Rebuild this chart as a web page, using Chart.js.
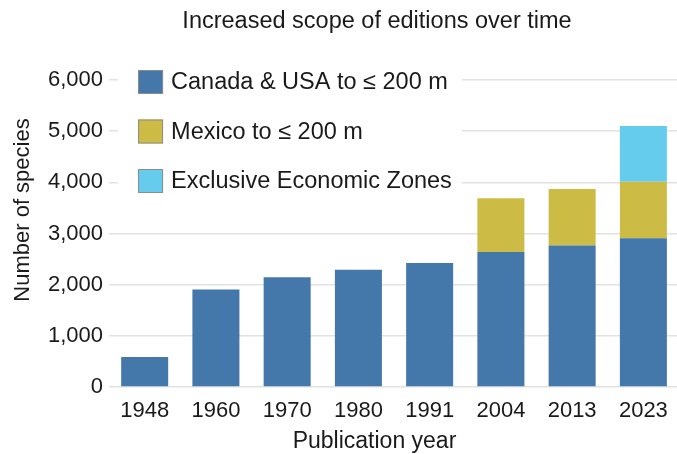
<!DOCTYPE html>
<html>
<head>
<meta charset="utf-8">
<script src="https://cdn.jsdelivr.net/npm/chart.js@4.4.0/dist/chart.umd.min.js"></script>
<style>
    html, body { margin: 0; padding: 0; background: #fff; overflow: hidden; }
    #wrap { width: 681px; height: 454px; }
</style>
</head>
<body>
<div id="wrap"><canvas id="chart"></canvas></div>
<script>
// Chart values
var years = ['1948', '1960', '1970', '1980', '1991', '2004', '2013', '2023'];
var canadaUsa = [585, 1905, 2145, 2290, 2425, 2640, 2765, 2905];
var mexico = [null, null, null, null, null, 1050, 1105, 1105];
var eez = [null, null, null, null, null, null, null, 1090];
var yTicks = [0, 1000, 2000, 3000, 4000, 5000, 6000];
var chartTitle = 'Increased scope of editions over time';
var xTitle = 'Publication year';
var yTitle = 'Number of species';

var FONT = "'Liberation Sans', Arial, sans-serif";
var INK = '#1a1a1a';

/**
 * Chart title and axis titles drawn by hand:
 * none of them is centred where Chart.js would put it
 */
var offsetTitles = {
    id: 'offsetTitles',
    afterDraw: function(chart) {
        var ctx = chart.ctx;
        ctx.save();
        ctx.fillStyle = INK;
        ctx.textAlign = 'center';
        ctx.textBaseline = 'middle';
        ctx.font = '23.5px ' + FONT;
        ctx.fillText(chartTitle, 377, 22);

        ctx.font = '23px ' + FONT;
        ctx.fillText(xTitle, 374.5, 442);

        ctx.font = '22px ' + FONT;
        ctx.translate(23, 210);
        ctx.rotate(-Math.PI / 2);
        ctx.fillText(yTitle, 0, 0);
        ctx.restore();
    }
};

/**
 * Legend drawn inside the plot area, on a white patch
 * so that the grid lines stop behind it
 */
var insideLegend = {
    id: 'insideLegend',
    afterDatasetsDraw: function(chart) {
        var ctx = chart.ctx;
        var area = chart.chartArea;
        var sets = chart.data.datasets;
        var rowGap = 49.5;

        ctx.save();
        ctx.font = '23.5px ' + FONT;
        var widest = 0;
        sets.forEach(function(ds) {
            widest = Math.max(widest, ctx.measureText(ds.label).width);
        });

        // White background behind the legend
        ctx.fillStyle = '#ffffff';
        ctx.fillRect(area.left + 9, area.top - 20, 62 + widest - 9 + 10, 20 + 2 * rowGap + 25);

        sets.forEach(function(ds, i) {
            var cy = area.top + 2 + i * rowGap;
            ctx.fillStyle = ds.backgroundColor;
            ctx.fillRect(area.left + 29, cy - 12, 25, 24);
            ctx.strokeStyle = '#8c8c8c';
            ctx.lineWidth = 1;
            ctx.strokeRect(area.left + 29.5, cy - 11.5, 24, 23);
            ctx.fillStyle = INK;
            ctx.textAlign = 'left';
            ctx.textBaseline = 'middle';
            ctx.fillText(ds.label, area.left + 62, cy + 1);
        });
        ctx.restore();
    }
};

var chart = new Chart(document.getElementById('chart'), {
    type: 'bar',
    data: {
        labels: years,
        datasets: [{
            label: 'Canada & USA to \u2264 200 m',
            data: canadaUsa,
            backgroundColor: '#4477aa'
        }, {
            label: 'Mexico to \u2264 200 m',
            data: mexico,
            backgroundColor: '#ccbb44'
        }, {
            label: 'Exclusive Economic Zones',
            data: eez,
            backgroundColor: '#66ccee'
        }]
    },
    options: {
        responsive: true,
        maintainAspectRatio: false,
        animation: false,
        layout: {
            padding: { left: 42, right: 2, top: 80, bottom: 18.6 }
        },
        datasets: {
            bar: { barPercentage: 0.66, categoryPercentage: 1, borderWidth: 0 }
        },
        plugins: {
            legend: { display: false },
            tooltip: { enabled: false },
            title: { display: false }
        },
        scales: {
            x: {
                stacked: true,
                grid: { display: false, drawTicks: false },
                border: { display: false },
                ticks: {
                    color: INK,
                    font: { family: FONT, size: 22 },
                    padding: 11
                },
                title: { display: false }
            },
            y: {
                stacked: true,
                min: 0,
                max: 6000,
                afterBuildTicks: function(scale) {
                    scale.ticks = yTicks.map(function(v) { return { value: v }; });
                },
                grid: { color: '#e2e2e2', lineWidth: 1.5, drawTicks: false },
                border: { display: false },
                ticks: {
                    color: INK,
                    font: { family: FONT, size: 22 },
                    padding: 6,
                    callback: function(v) { return Number(v).toLocaleString('en-US'); }
                },
                title: { display: false }
            }
        }
    },
    plugins: [insideLegend, offsetTitles]
});
</script>
</body>
</html>
